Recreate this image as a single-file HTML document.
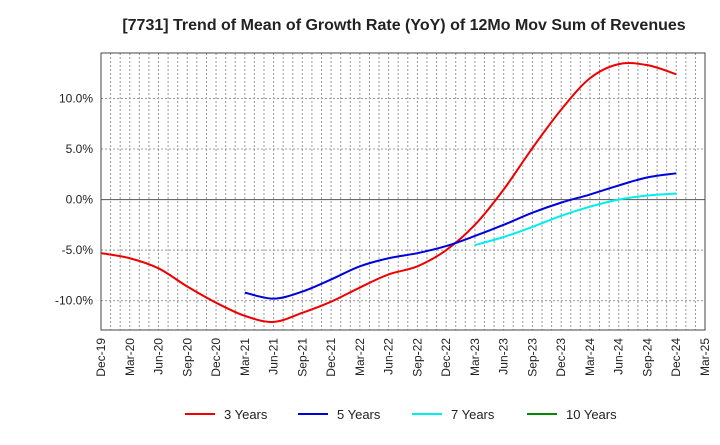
<!DOCTYPE html>
<html><head><meta charset="utf-8"><style>
body{margin:0;background:#fff;font-family:"Liberation Sans",sans-serif;}
svg text{font-family:"Liberation Sans",sans-serif;}
</style></head><body>
<svg id="chart" width="720" height="440" xmlns="http://www.w3.org/2000/svg">
<text x="404" y="30" text-anchor="middle" font-size="16" font-weight="bold" fill="#222">[7731]  Trend of Mean of Growth Rate (YoY) of 12Mo Mov Sum of Revenues</text>
<g id="grid"></g><g id="series"></g><g id="axes"></g>
<g id="legend"></g>
</svg>
<script>
const xLabels=["Dec-19","Mar-20","Jun-20","Sep-20","Dec-20","Mar-21","Jun-21","Sep-21","Dec-21","Mar-22","Jun-22","Sep-22","Dec-22","Mar-23","Jun-23","Sep-23","Dec-23","Mar-24","Jun-24","Sep-24","Dec-24","Mar-25"];
const yTicks=[-10,-5,0,5,10];
const seriesNames=["3 Years","5 Years","7 Years","10 Years"];
const seriesColors=["#ee0000","#0000dd","#00eeee","#008800"];
const s3Start=0;
const s3=[-5.3,-5.8,-6.8,-8.6,-10.2,-11.5,-12.1,-11.2,-10.1,-8.7,-7.4,-6.6,-5.0,-2.5,1.0,5.1,8.9,12.0,13.4,13.3,12.4];
const s5Start=5;
const s5=[-9.2,-9.8,-9.1,-7.9,-6.6,-5.8,-5.3,-4.6,-3.6,-2.5,-1.3,-0.3,0.5,1.4,2.2,2.6];
const s7Start=13;
const s7=[-4.5,-3.7,-2.7,-1.6,-0.7,0.0,0.4,0.6];
const s10Start=0;
const s10=[];

const L=101,R=705,T=53,B=330,yMin=-12.9,yMax=14.5;
const NS="http://www.w3.org/2000/svg";
function X(q){return L+(R-L)*q/(xLabels.length-1);}
function Y(v){return B-(v-yMin)/(yMax-yMin)*(B-T);}
function mk(tag,attrs,parent){const e=document.createElementNS(NS,tag);for(const k in attrs)e.setAttribute(k,attrs[k]);parent.appendChild(e);return e;}
const grid=document.getElementById('grid'),axes=document.getElementById('axes'),ser=document.getElementById('series'),leg=document.getElementById('legend');
const months=(xLabels.length-1)*3;
for(let m=1;m<months;m++){const x=L+(R-L)*m/months;
 const ln=mk('line',{x1:x,x2:x,y1:T,y2:B,stroke:'#999','stroke-dasharray':'2,2','stroke-width':1},grid);
 
 }
for(let v=-10;v<=10;v+=5){const y=Y(v);
 const ln=mk('line',{x1:L,x2:R,y1:y,y2:y,stroke:v===0?'#555':'#999','stroke-dasharray':v===0?'none':'2,2','stroke-width':1},grid);
 
 }
const fr=mk('rect',{x:L,y:T,width:R-L,height:B-T,fill:'none',stroke:'#444','stroke-width':1},axes);


yTicks.forEach(v=>{const t=mk('text',{x:L-8,y:Y(v)+4,'text-anchor':'end','font-size':12,fill:'#222'},axes);t.textContent=v.toFixed(1)+'%';
 
 });
xLabels.forEach((s,i)=>{const x=X(i)+4,y=B+8;const t=mk('text',{x:x,y:y,'text-anchor':'end','font-size':12,fill:'#222',transform:`rotate(-90 ${x} ${y})`},axes);t.textContent=s;
 
 });
function path(start,vals){const p=vals.map((v,i)=>[X(start+i),Y(v)]);if(p.length<2)return '';
 let d=`M${p[0][0]},${p[0][1]}`;
 for(let i=0;i<p.length-1;i++){const p0=p[i-1]||p[i],p1=p[i],p2=p[i+1],p3=p[i+2]||p2;
  d+=` C${p1[0]+(p2[0]-p0[0])/6},${p1[1]+(p2[1]-p0[1])/6} ${p2[0]-(p3[0]-p1[0])/6},${p2[1]-(p3[1]-p1[1])/6} ${p2[0]},${p2[1]}`;}
 return d;}
[[s3Start,s3],[s5Start,s5],[s7Start,s7],[s10Start,s10]].forEach(([st,v],i)=>{const d=path(st,v);if(!d)return;
 const pe=mk('path',{d:d,fill:'none',stroke:seriesColors[i],'stroke-width':2},ser);
 
 });
const lx=[185,298,412,527];
seriesNames.forEach((n,i)=>{
 const ln=mk('line',{x1:lx[i],x2:lx[i]+30,y1:414,y2:414,stroke:seriesColors[i],'stroke-width':2},leg);
 
 
 const t=mk('text',{x:lx[i]+39,y:419,'font-size':13,fill:'#222'},leg);t.textContent=n;
 
 });
</script>
</body></html>
